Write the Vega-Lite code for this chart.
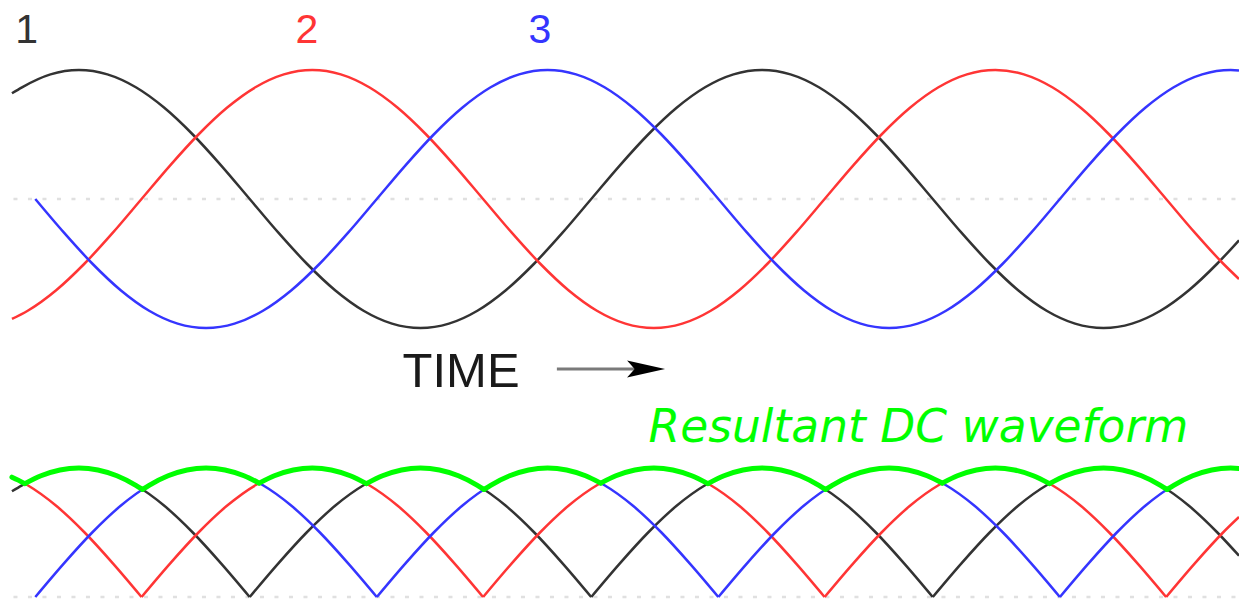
{
  "$schema": "https://vega.github.io/schema/vega-lite/v6.json",
  "padding": 0,
  "spacing": 0,
  "background": "#ffffff",
  "config": {"view": {"stroke": null}},
  "datasets": {
    "phase": [
      {"p":"1","t":54.7,"v":0.82,"r":0.82,"a":0},
      {"p":"1","t":60,"v":0.866,"r":0.866,"a":0},
      {"p":"1","t":75,"v":0.966,"r":0.966,"a":0},
      {"p":"1","t":90,"v":1,"r":1,"a":0},
      {"p":"1","t":105,"v":0.966,"r":0.966,"a":0},
      {"p":"1","t":120,"v":0.866,"r":0.866,"a":0},
      {"p":"1","t":135,"v":0.707,"r":0.707,"a":0},
      {"p":"1","t":150,"v":0.5,"r":0.5,"a":0},
      {"p":"1","t":165,"v":0.259,"r":0.259,"a":0},
      {"p":"1","t":180,"v":0,"r":0,"a":0},
      {"p":"1","t":180,"v":0,"r":0,"a":1,"d":1},
      {"p":"1","t":195,"v":-0.259,"r":0.259,"a":1},
      {"p":"1","t":210,"v":-0.5,"r":0.5,"a":1},
      {"p":"1","t":225,"v":-0.707,"r":0.707,"a":1},
      {"p":"1","t":240,"v":-0.866,"r":0.866,"a":1},
      {"p":"1","t":255,"v":-0.966,"r":0.966,"a":1},
      {"p":"1","t":270,"v":-1,"r":1,"a":1},
      {"p":"1","t":285,"v":-0.966,"r":0.966,"a":1},
      {"p":"1","t":300,"v":-0.866,"r":0.866,"a":1},
      {"p":"1","t":315,"v":-0.707,"r":0.707,"a":1},
      {"p":"1","t":330,"v":-0.5,"r":0.5,"a":1},
      {"p":"1","t":345,"v":-0.259,"r":0.259,"a":1},
      {"p":"1","t":360,"v":0,"r":0,"a":1},
      {"p":"1","t":360,"v":0,"r":0,"a":2,"d":1},
      {"p":"1","t":375,"v":0.259,"r":0.259,"a":2},
      {"p":"1","t":390,"v":0.5,"r":0.5,"a":2},
      {"p":"1","t":405,"v":0.707,"r":0.707,"a":2},
      {"p":"1","t":420,"v":0.866,"r":0.866,"a":2},
      {"p":"1","t":435,"v":0.966,"r":0.966,"a":2},
      {"p":"1","t":450,"v":1,"r":1,"a":2},
      {"p":"1","t":465,"v":0.966,"r":0.966,"a":2},
      {"p":"1","t":480,"v":0.866,"r":0.866,"a":2},
      {"p":"1","t":495,"v":0.707,"r":0.707,"a":2},
      {"p":"1","t":510,"v":0.5,"r":0.5,"a":2},
      {"p":"1","t":525,"v":0.259,"r":0.259,"a":2},
      {"p":"1","t":540,"v":0,"r":0,"a":2},
      {"p":"1","t":540,"v":0,"r":0,"a":3,"d":1},
      {"p":"1","t":555,"v":-0.259,"r":0.259,"a":3},
      {"p":"1","t":570,"v":-0.5,"r":0.5,"a":3},
      {"p":"1","t":585,"v":-0.707,"r":0.707,"a":3},
      {"p":"1","t":600,"v":-0.866,"r":0.866,"a":3},
      {"p":"1","t":615,"v":-0.966,"r":0.966,"a":3},
      {"p":"1","t":630,"v":-1,"r":1,"a":3},
      {"p":"1","t":645,"v":-0.966,"r":0.966,"a":3},
      {"p":"1","t":660,"v":-0.866,"r":0.866,"a":3},
      {"p":"1","t":675,"v":-0.707,"r":0.707,"a":3},
      {"p":"1","t":690,"v":-0.5,"r":0.5,"a":3},
      {"p":"1","t":701.4,"v":-0.32,"r":0.32,"a":3},

      {"p":"2","t":54.7,"v":-0.93,"r":0.93,"a":0},
      {"p":"2","t":63,"v":-0.866,"r":0.866,"a":0},
      {"p":"2","t":78,"v":-0.707,"r":0.707,"a":0},
      {"p":"2","t":93,"v":-0.5,"r":0.5,"a":0},
      {"p":"2","t":108,"v":-0.259,"r":0.259,"a":0},
      {"p":"2","t":123,"v":0,"r":0,"a":0},
      {"p":"2","t":123,"v":0,"r":0,"a":1,"d":1},
      {"p":"2","t":138,"v":0.259,"r":0.259,"a":1},
      {"p":"2","t":153,"v":0.5,"r":0.5,"a":1},
      {"p":"2","t":168,"v":0.707,"r":0.707,"a":1},
      {"p":"2","t":183,"v":0.866,"r":0.866,"a":1},
      {"p":"2","t":198,"v":0.966,"r":0.966,"a":1},
      {"p":"2","t":213,"v":1,"r":1,"a":1},
      {"p":"2","t":228,"v":0.966,"r":0.966,"a":1},
      {"p":"2","t":243,"v":0.866,"r":0.866,"a":1},
      {"p":"2","t":258,"v":0.707,"r":0.707,"a":1},
      {"p":"2","t":273,"v":0.5,"r":0.5,"a":1},
      {"p":"2","t":288,"v":0.259,"r":0.259,"a":1},
      {"p":"2","t":303,"v":0,"r":0,"a":1},
      {"p":"2","t":303,"v":0,"r":0,"a":2,"d":1},
      {"p":"2","t":318,"v":-0.259,"r":0.259,"a":2},
      {"p":"2","t":333,"v":-0.5,"r":0.5,"a":2},
      {"p":"2","t":348,"v":-0.707,"r":0.707,"a":2},
      {"p":"2","t":363,"v":-0.866,"r":0.866,"a":2},
      {"p":"2","t":378,"v":-0.966,"r":0.966,"a":2},
      {"p":"2","t":393,"v":-1,"r":1,"a":2},
      {"p":"2","t":408,"v":-0.966,"r":0.966,"a":2},
      {"p":"2","t":423,"v":-0.866,"r":0.866,"a":2},
      {"p":"2","t":438,"v":-0.707,"r":0.707,"a":2},
      {"p":"2","t":453,"v":-0.5,"r":0.5,"a":2},
      {"p":"2","t":468,"v":-0.259,"r":0.259,"a":2},
      {"p":"2","t":483,"v":0,"r":0,"a":2},
      {"p":"2","t":483,"v":0,"r":0,"a":3,"d":1},
      {"p":"2","t":498,"v":0.259,"r":0.259,"a":3},
      {"p":"2","t":513,"v":0.5,"r":0.5,"a":3},
      {"p":"2","t":528,"v":0.707,"r":0.707,"a":3},
      {"p":"2","t":543,"v":0.866,"r":0.866,"a":3},
      {"p":"2","t":558,"v":0.966,"r":0.966,"a":3},
      {"p":"2","t":573,"v":1,"r":1,"a":3},
      {"p":"2","t":588,"v":0.966,"r":0.966,"a":3},
      {"p":"2","t":603,"v":0.866,"r":0.866,"a":3},
      {"p":"2","t":618,"v":0.707,"r":0.707,"a":3},
      {"p":"2","t":633,"v":0.5,"r":0.5,"a":3},
      {"p":"2","t":648,"v":0.259,"r":0.259,"a":3},
      {"p":"2","t":663,"v":0,"r":0,"a":3},
      {"p":"2","t":663,"v":0,"r":0,"a":4,"d":1},
      {"p":"2","t":678,"v":-0.259,"r":0.259,"a":4},
      {"p":"2","t":693,"v":-0.5,"r":0.5,"a":4},
      {"p":"2","t":701.4,"v":-0.62,"r":0.62,"a":4},

      {"p":"3","t":67,"v":0,"r":0,"a":0},
      {"p":"3","t":82,"v":-0.259,"r":0.259,"a":0},
      {"p":"3","t":97,"v":-0.5,"r":0.5,"a":0},
      {"p":"3","t":112,"v":-0.707,"r":0.707,"a":0},
      {"p":"3","t":127,"v":-0.866,"r":0.866,"a":0},
      {"p":"3","t":142,"v":-0.966,"r":0.966,"a":0},
      {"p":"3","t":157,"v":-1,"r":1,"a":0},
      {"p":"3","t":172,"v":-0.966,"r":0.966,"a":0},
      {"p":"3","t":187,"v":-0.866,"r":0.866,"a":0},
      {"p":"3","t":202,"v":-0.707,"r":0.707,"a":0},
      {"p":"3","t":217,"v":-0.5,"r":0.5,"a":0},
      {"p":"3","t":232,"v":-0.259,"r":0.259,"a":0},
      {"p":"3","t":247,"v":0,"r":0,"a":0},
      {"p":"3","t":247,"v":0,"r":0,"a":1,"d":1},
      {"p":"3","t":262,"v":0.259,"r":0.259,"a":1},
      {"p":"3","t":277,"v":0.5,"r":0.5,"a":1},
      {"p":"3","t":292,"v":0.707,"r":0.707,"a":1},
      {"p":"3","t":307,"v":0.866,"r":0.866,"a":1},
      {"p":"3","t":322,"v":0.966,"r":0.966,"a":1},
      {"p":"3","t":337,"v":1,"r":1,"a":1},
      {"p":"3","t":352,"v":0.966,"r":0.966,"a":1},
      {"p":"3","t":367,"v":0.866,"r":0.866,"a":1},
      {"p":"3","t":382,"v":0.707,"r":0.707,"a":1},
      {"p":"3","t":397,"v":0.5,"r":0.5,"a":1},
      {"p":"3","t":412,"v":0.259,"r":0.259,"a":1},
      {"p":"3","t":427,"v":0,"r":0,"a":1},
      {"p":"3","t":427,"v":0,"r":0,"a":2,"d":1},
      {"p":"3","t":442,"v":-0.259,"r":0.259,"a":2},
      {"p":"3","t":457,"v":-0.5,"r":0.5,"a":2},
      {"p":"3","t":472,"v":-0.707,"r":0.707,"a":2},
      {"p":"3","t":487,"v":-0.866,"r":0.866,"a":2},
      {"p":"3","t":502,"v":-0.966,"r":0.966,"a":2},
      {"p":"3","t":517,"v":-1,"r":1,"a":2},
      {"p":"3","t":532,"v":-0.966,"r":0.966,"a":2},
      {"p":"3","t":547,"v":-0.866,"r":0.866,"a":2},
      {"p":"3","t":562,"v":-0.707,"r":0.707,"a":2},
      {"p":"3","t":577,"v":-0.5,"r":0.5,"a":2},
      {"p":"3","t":592,"v":-0.259,"r":0.259,"a":2},
      {"p":"3","t":607,"v":0,"r":0,"a":2},
      {"p":"3","t":607,"v":0,"r":0,"a":3,"d":1},
      {"p":"3","t":622,"v":0.259,"r":0.259,"a":3},
      {"p":"3","t":637,"v":0.5,"r":0.5,"a":3},
      {"p":"3","t":652,"v":0.707,"r":0.707,"a":3},
      {"p":"3","t":667,"v":0.866,"r":0.866,"a":3},
      {"p":"3","t":682,"v":0.966,"r":0.966,"a":3},
      {"p":"3","t":697,"v":1,"r":1,"a":3},
      {"p":"3","t":701.4,"v":0.997,"r":0.997,"a":3}
    ],
    "env": [
      {"s":0,"t":54.7,"v":0.929},{"s":0,"t":58,"v":0.906},{"s":0,"t":61.5,"v":0.879},
      {"s":1,"t":61.5,"v":0.879},{"s":1,"t":70,"v":0.94},{"s":1,"t":80,"v":0.985},{"s":1,"t":90,"v":1},{"s":1,"t":100,"v":0.985},{"s":1,"t":110,"v":0.94},{"s":1,"t":120,"v":0.866},{"s":1,"t":123.5,"v":0.834},
      {"s":2,"t":123.5,"v":0.834},{"s":2,"t":127,"v":0.866},{"s":2,"t":137,"v":0.94},{"s":2,"t":147,"v":0.985},{"s":2,"t":157,"v":1},{"s":2,"t":167,"v":0.985},{"s":2,"t":177,"v":0.94},{"s":2,"t":185,"v":0.883},
      {"s":3,"t":185,"v":0.883},{"s":3,"t":193,"v":0.94},{"s":3,"t":203,"v":0.985},{"s":3,"t":213,"v":1},{"s":3,"t":223,"v":0.985},{"s":3,"t":233,"v":0.94},{"s":3,"t":241.5,"v":0.879},
      {"s":4,"t":241.5,"v":0.879},{"s":4,"t":250,"v":0.94},{"s":4,"t":260,"v":0.985},{"s":4,"t":270,"v":1},{"s":4,"t":280,"v":0.985},{"s":4,"t":290,"v":0.94},{"s":4,"t":300,"v":0.866},{"s":4,"t":303.5,"v":0.834},
      {"s":5,"t":303.5,"v":0.834},{"s":5,"t":307,"v":0.866},{"s":5,"t":317,"v":0.94},{"s":5,"t":327,"v":0.985},{"s":5,"t":337,"v":1},{"s":5,"t":347,"v":0.985},{"s":5,"t":357,"v":0.94},{"s":5,"t":365,"v":0.883},
      {"s":6,"t":365,"v":0.883},{"s":6,"t":373,"v":0.94},{"s":6,"t":383,"v":0.985},{"s":6,"t":393,"v":1},{"s":6,"t":403,"v":0.985},{"s":6,"t":413,"v":0.94},{"s":6,"t":421.5,"v":0.879},
      {"s":7,"t":421.5,"v":0.879},{"s":7,"t":430,"v":0.94},{"s":7,"t":440,"v":0.985},{"s":7,"t":450,"v":1},{"s":7,"t":460,"v":0.985},{"s":7,"t":470,"v":0.94},{"s":7,"t":480,"v":0.866},{"s":7,"t":483.5,"v":0.834},
      {"s":8,"t":483.5,"v":0.834},{"s":8,"t":487,"v":0.866},{"s":8,"t":497,"v":0.94},{"s":8,"t":507,"v":0.985},{"s":8,"t":517,"v":1},{"s":8,"t":527,"v":0.985},{"s":8,"t":537,"v":0.94},{"s":8,"t":545,"v":0.883},
      {"s":9,"t":545,"v":0.883},{"s":9,"t":553,"v":0.94},{"s":9,"t":563,"v":0.985},{"s":9,"t":573,"v":1},{"s":9,"t":583,"v":0.985},{"s":9,"t":593,"v":0.94},{"s":9,"t":601.5,"v":0.879},
      {"s":10,"t":601.5,"v":0.879},{"s":10,"t":610,"v":0.94},{"s":10,"t":620,"v":0.985},{"s":10,"t":630,"v":1},{"s":10,"t":640,"v":0.985},{"s":10,"t":650,"v":0.94},{"s":10,"t":660,"v":0.866},{"s":10,"t":663.5,"v":0.834},
      {"s":11,"t":663.5,"v":0.834},{"s":11,"t":667,"v":0.866},{"s":11,"t":677,"v":0.94},{"s":11,"t":687,"v":0.985},{"s":11,"t":697,"v":1},{"s":11,"t":701.4,"v":0.997}
    ],
    "zero_line": [{"t":55.5,"t1":701.4,"v":0}],
    "phase_labels": [
      {"p":"1","label":"1","t":62.4,"v":1.213},
      {"p":"2","label":"2","t":210.2,"v":1.213},
      {"p":"3","label":"3","t":333.0,"v":1.213}
    ],
    "time_label": [{"label":"TIME","t":291.4,"v":-1.457}],
    "time_arrow": [{"t":341.9,"t1":385.7,"v":-1.318}],
    "time_arrowhead": [{"t":388.9,"v":-1.318}],
    "dc_label": [{"label":"Resultant DC waveform","t":532.5,"v":1.2016}]
  },
  "vconcat": [
    {
      "width": 1239,
      "height": 400,
      "encoding": {
        "x": {"field":"t","type":"quantitative","scale":{"domain":[48.4,701.4],"nice":false,"zero":false},"axis":null},
        "y": {"field":"v","type":"quantitative","scale":{"domain":[-1.5581,1.5426],"nice":false,"zero":false},"axis":null}
      },
      "layer": [
        {
          "data": {"name":"zero_line"},
          "mark": {"type":"rule","color":"#e0e0e0","strokeWidth":2.5,"strokeDash":[4,10.5]},
          "encoding": {"x2":{"field":"t1"}}
        },
        {
          "data": {"name":"phase"},
          "transform": [{"filter":"datum.d !== 1"}],
          "mark": {"type":"line","interpolate":"monotone","strokeWidth":2.5},
          "encoding": {
            "color": {"field":"p","type":"nominal","scale":{"domain":["1","2","3"],"range":["#333333","#ff3535","#3535ff"]},"legend":null}
          }
        },
        {
          "data": {"name":"phase_labels"},
          "mark": {"type":"text","font":"Liberation Sans","fontSize":41,"align":"center","baseline":"alphabetic"},
          "encoding": {
            "text": {"field":"label"},
            "color": {"field":"p","type":"nominal","legend":null}
          }
        },
        {
          "data": {"name":"time_label"},
          "mark": {"type":"text","font":"Liberation Sans","fontSize":49,"align":"center","baseline":"alphabetic","color":"#1a1a1a"},
          "encoding": {"text": {"field":"label"}}
        },
        {
          "data": {"name":"time_arrow"},
          "mark": {"type":"rule","color":"#7a7a7a","strokeWidth":3},
          "encoding": {"x2":{"field":"t1"}}
        },
        {
          "data": {"name":"time_arrowhead"},
          "mark": {"type":"point","shape":"M-1,-0.45L1,0L-1,0.45L-0.6,0Z","size":1444,"filled":true,"color":"#000000","opacity":1}
        }
      ]
    },
    {
      "width": 1239,
      "height": 199,
      "encoding": {
        "x": {"field":"t","type":"quantitative","scale":{"domain":[48.4,701.4],"nice":false,"zero":false},"axis":null},
        "y": {"field":"v","type":"quantitative","scale":{"domain":[-0.0155,1.5271],"nice":false,"zero":false},"axis":null}
      },
      "layer": [
        {
          "data": {"name":"zero_line"},
          "mark": {"type":"rule","color":"#e0e0e0","strokeWidth":2.5,"strokeDash":[4,10.5]},
          "encoding": {"x2":{"field":"t1"}}
        },
        {
          "data": {"name":"phase"},
          "mark": {"type":"line","interpolate":"monotone","strokeWidth":2.5},
          "encoding": {
            "y": {"field":"r","type":"quantitative","scale":{"domain":[-0.0155,1.5271],"nice":false,"zero":false},"axis":null},
            "color": {"field":"p","type":"nominal","scale":{"domain":["1","2","3"],"range":["#333333","#ff3535","#3535ff"]},"legend":null},
            "detail": {"field":"a","type":"nominal"}
          }
        },
        {
          "data": {"name":"env"},
          "mark": {"type":"line","interpolate":"monotone","strokeWidth":5,"color":"#00ff00","strokeCap":"round","strokeJoin":"round"},
          "encoding": {"detail": {"field":"s","type":"nominal"}}
        },
        {
          "data": {"name":"dc_label"},
          "mark": {"type":"text","font":"DejaVu Sans","fontSize":45.5,"fontStyle":"italic","align":"center","baseline":"alphabetic","color":"#00ff00"},
          "encoding": {"text": {"field":"label"}}
        }
      ]
    }
  ]
}
